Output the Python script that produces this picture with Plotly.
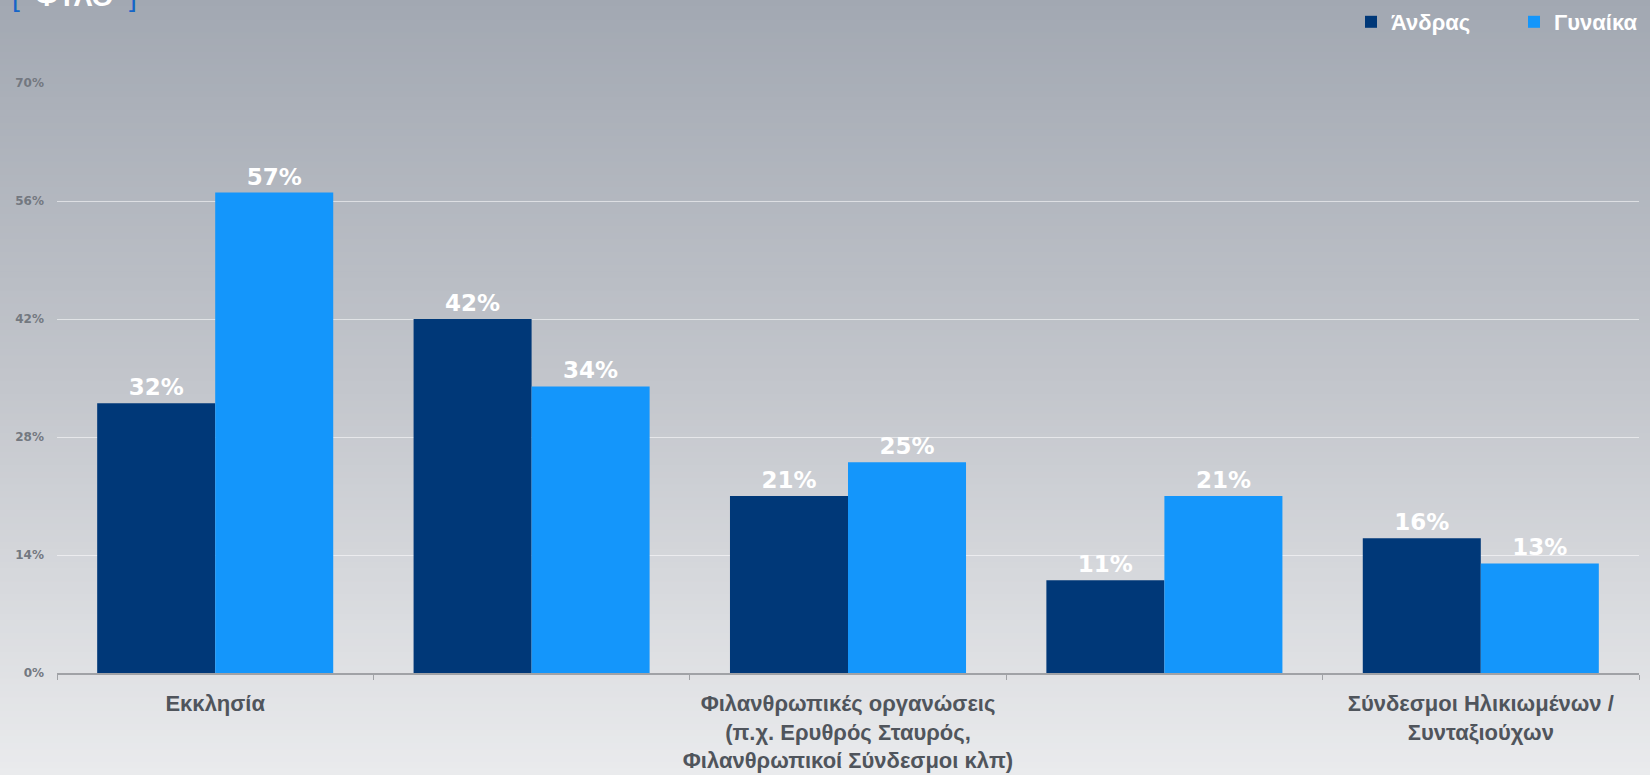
import plotly.graph_objects as go

# ---- data ----
category_keys = ["Εκκλησία", "Κατηγορία 2", "Φιλανθρωπικές οργανώσεις", "Κατηγορία 4",
                 "Σύνδεσμοι Ηλικιωμένων / Συνταξιούχων"]
tick_labels = ["Εκκλησία", "",
               "Φιλανθρωπικές οργανώσεις<br>(π.χ. Ερυθρός Σταυρός,<br>Φιλανθρωπικοί Σύνδεσμοι κλπ)",
               "",
               "Σύνδεσμοι Ηλικιωμένων /<br>Συνταξιούχων"]
men = [32, 42, 21, 11, 16]
women = [57, 34, 25, 21, 13]
series_names = ["Άνδρας", "Γυναίκα"]
y_ticks = [0, 14, 28, 42, 56, 70]
y_tick_labels = ["0%", "14%", "28%", "42%", "56%", "70%"]
title_text = "ΦΥΛΟ"

# ---- layout constants ----
W, H = 1650, 775
ML, MR, MT, MB = 57, 11, 83, 102
PW, PH = W - ML - MR, H - MT - MB

DARK = "#003878"
LIGHT = "#1496fb"

fig = go.Figure()

label_font = dict(family="DejaVu Sans", size=23, color="white", weight=600)

fig.add_trace(go.Bar(
    x=category_keys, y=men, name=series_names[0], marker=dict(color=DARK, line=dict(width=0)),
    text=[f"{v}%" for v in men], textposition="outside", textfont=label_font,
    cliponaxis=False,
))
fig.add_trace(go.Bar(
    x=category_keys, y=women, name=series_names[1], marker=dict(color=LIGHT, line=dict(width=0)),
    text=[f"{v}%" for v in women], textposition="outside", textfont=label_font,
    cliponaxis=False,
))

# ---- gradient background (bands over whole page) ----
def hex2rgb(h):
    h = h.lstrip("#")
    return [int(h[i:i + 2], 16) for i in (0, 2, 4)]

stops = [(0.0, hex2rgb("#a2a8b2")), (0.5, hex2rgb("#c3c6cc")), (1.0, hex2rgb("#eaebed"))]

def col_at(t):
    for (t0, c0), (t1, c1) in zip(stops[:-1], stops[1:]):
        if t0 <= t <= t1:
            f = (t - t0) / (t1 - t0)
            c = [round(a + (b - a) * f) for a, b in zip(c0, c1)]
            return "rgb(%d,%d,%d)" % tuple(c)
    return "rgb(%d,%d,%d)" % tuple(stops[-1][1])

shapes = []
N = 120
for i in range(N):
    py0 = H * i / N
    py1 = H * (i + 1) / N + 1
    y0 = 1 + (MT - py0) / PH
    y1 = 1 + (MT - py1) / PH
    shapes.append(dict(type="rect", xref="paper", yref="paper",
                       x0=-ML / PW - 0.01, x1=1 + MR / PW + 0.01, y0=y1, y1=y0,
                       fillcolor=col_at((i + 0.5) / N), line=dict(width=0), layer="below"))

annotations = [dict(
    xref="paper", yref="paper", x=-ML / PW + 10 / PW, y=1, xanchor="left", yanchor="bottom",
    yshift=MT - 14, showarrow=False,
    text=("<span style='color:#1565c8'>[</span>&nbsp;&nbsp;<b>" + title_text +
          "</b>&nbsp;&nbsp;<span style='color:#1565c8'>]</span>"),
    font=dict(family="Liberation Sans", size=28, color="white"),
)]

fig.update_layout(
    width=W, height=H,
    margin=dict(l=ML, r=MR, t=MT, b=MB, pad=0, autoexpand=False),
    paper_bgcolor="#c3c6cc",
    plot_bgcolor="rgba(0,0,0,0)",
    barmode="group", bargap=0.254, bargroupgap=0,
    shapes=shapes, annotations=annotations,
    showlegend=True,
    legend=dict(orientation="h", x=(1351 - ML) / PW, xanchor="left", y=1 + (MT - 22) / PH,
                yanchor="middle",
                font=dict(family="Liberation Sans", size=22, color="white", weight="bold"),
                bgcolor="rgba(0,0,0,0)", itemwidth=30, entrywidth=118, entrywidthmode="pixels",
                traceorder="normal"),
)

fig.update_yaxes(
    range=[0, 70], tickmode="array", tickvals=y_ticks, ticktext=y_tick_labels,
    showgrid=True, gridcolor="rgba(255,255,255,0.55)", gridwidth=1,
    zeroline=False, showline=False, ticks="", automargin=False,
    tickfont=dict(family="DejaVu Sans", size=12, color="#737880", weight="bold"),
    ticklabelstandoff=12,
)
fig.update_xaxes(
    type="category", categoryorder="array", categoryarray=category_keys,
    tickmode="array", tickvals=category_keys, ticktext=tick_labels,
    tickson="boundaries", ticks="outside", ticklen=5, tickcolor="#a0a2a6", tickwidth=1,
    showline=True, linecolor="#a0a2a6", linewidth=1.5, showgrid=False,
    tickangle=0, automargin=False,
    tickfont=dict(family="Liberation Sans", size=22, color="#50555c", weight="bold"),
    ticklabelstandoff=10,
)

fig.write_html("out.html", config={"displayModeBar": False},
               post_script="document.body.style.margin='0';")
